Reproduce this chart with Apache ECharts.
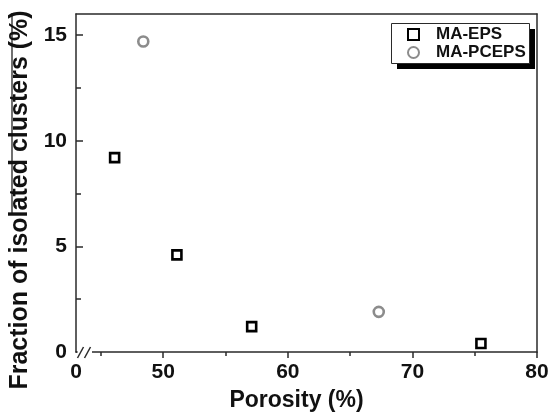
<!DOCTYPE html>
<html>
<head>
<meta charset="utf-8">
<script src="https://cdn.jsdelivr.net/npm/echarts@6/dist/echarts.min.js"></script>
<style>
  html, body { margin: 0; padding: 0; background: #fff; }
  #chart { width: 553px; height: 414px; }
</style>
</head>
<body>
<div id="chart"></div>
<script>
// Porosity (%) vs fraction of isolated clusters (%)
const epsPorosity = [46.1, 51.1, 57.1, 75.5];
const epsFraction = [9.2, 4.6, 1.2, 0.4];
const pcepsPorosity = [48.4, 67.3];
const pcepsFraction = [14.7, 1.9];

const xMajorTicks = [50, 60, 70, 80];
const xMinorTicks = [45, 55, 65, 75];
const yMajorTicks = [0, 5, 10, 15];
const yMinorTicks = [2.5, 7.5, 12.5];

const X_MIN = 43, X_MAX = 80, Y_MIN = 0, Y_MAX = 16;
const FONT = '"Liberation Sans", Arial, sans-serif';
const AXIS_COLOR = '#2a2a2a';

// legend frame (with a solid drop shadow) drawn behind the legend items
const LEGEND_BOX = { x: 391, y: 23, w: 138, h: 40, shadow: 6 };

const chart = echarts.init(document.getElementById('chart'), null, { renderer: 'canvas' });

const pair = (xs, ys) => xs.map((x, i) => [x, ys[i]]);

const option = {
  backgroundColor: '#fff',
  animation: false,
  grid: { left: 76, right: 16, top: 14, bottom: 62, containLabel: false, outerBoundsMode: 'none' },
  legend: {
    orient: 'vertical',
    left: LEGEND_BOX.x,
    top: LEGEND_BOX.y,
    z: 20,
    itemWidth: 11,
    itemHeight: 11,
    itemGap: 1,
    padding: [3, 5, 4, 16],
    textStyle: { fontFamily: FONT, fontWeight: 'bold', fontSize: 17, color: '#111', padding: [0, 0, 0, 12] },
    data: ['MA-EPS', 'MA-PCEPS']
  },
  xAxis: [
    {
      type: 'value', position: 'bottom', min: X_MIN, max: X_MAX,
      splitLine: { show: false },
      axisLine: { show: true, onZero: false, lineStyle: { color: AXIS_COLOR, width: 1.5 } },
      axisTick: { show: true, inside: false, length: 6, customValues: xMajorTicks, lineStyle: { color: AXIS_COLOR, width: 1.5 } },
      axisLabel: {
        show: true, margin: 10, customValues: [X_MIN].concat(xMajorTicks),
        formatter: v => (v === X_MIN ? '0' : String(v)),
        fontFamily: FONT, fontWeight: 'bold', fontSize: 21, color: '#111'
      },
      name: 'Porosity (%)', nameLocation: 'middle', nameGap: 37,
      nameTextStyle: { fontFamily: FONT, fontWeight: 'bold', fontSize: 23, color: '#111', padding: [0, 20, 0, 0] }
    },
    {
      type: 'value', position: 'bottom', min: X_MIN, max: X_MAX,
      splitLine: { show: false },
      axisLine: { show: false, onZero: false },
      axisTick: { show: true, inside: false, length: 4, customValues: xMinorTicks, lineStyle: { color: AXIS_COLOR, width: 1.5 } },
      axisLabel: { show: false }
    },
    {
      type: 'value', position: 'top', min: X_MIN, max: X_MAX,
      splitLine: { show: false },
      axisLine: { show: true, onZero: false, lineStyle: { color: AXIS_COLOR, width: 1.5 } },
      axisTick: { show: false }, axisLabel: { show: false }
    }
  ],
  yAxis: [
    {
      type: 'value', position: 'left', min: Y_MIN, max: Y_MAX,
      splitLine: { show: false },
      axisLine: { show: true, onZero: false, lineStyle: { color: AXIS_COLOR, width: 1.5 } },
      axisTick: { show: true, inside: true, length: 7, customValues: yMajorTicks, lineStyle: { color: AXIS_COLOR, width: 1.5 } },
      axisLabel: {
        show: true, margin: 9, customValues: yMajorTicks,
        fontFamily: FONT, fontWeight: 'bold', fontSize: 21, color: '#111'
      },
      name: 'Fraction of isolated clusters (%)', nameLocation: 'middle', nameGap: 37,
      nameTextStyle: { fontFamily: FONT, fontWeight: 'bold', fontSize: 25, color: '#111', padding: [0, 34, 0, 0] }
    },
    {
      type: 'value', position: 'left', min: Y_MIN, max: Y_MAX,
      splitLine: { show: false },
      axisLine: { show: false, onZero: false },
      axisTick: { show: true, inside: true, length: 5, customValues: yMinorTicks, lineStyle: { color: AXIS_COLOR, width: 1.5 } },
      axisLabel: { show: false }
    },
    {
      type: 'value', position: 'right', min: Y_MIN, max: Y_MAX,
      splitLine: { show: false },
      axisLine: { show: true, onZero: false, lineStyle: { color: AXIS_COLOR, width: 1.5 } },
      axisTick: { show: false }, axisLabel: { show: false }
    }
  ],
  series: [
    {
      name: 'MA-EPS', type: 'scatter', xAxisIndex: 0, yAxisIndex: 0,
      symbol: 'rect', symbolSize: 9,
      itemStyle: { color: '#fff', borderColor: '#000', borderWidth: 2.6, opacity: 1 },
      data: pair(epsPorosity, epsFraction), z: 5
    },
    {
      name: 'MA-PCEPS', type: 'scatter', xAxisIndex: 0, yAxisIndex: 0,
      symbol: 'circle', symbolSize: 10,
      itemStyle: { color: '#fff', borderColor: '#8c8c8c', borderWidth: 2.6, opacity: 1 },
      data: pair(pcepsPorosity, pcepsFraction), z: 5
    }
  ]
};

chart.setOption(option);

// Axis break "//" near the origin, the legend frame and the rule left of the y title
const p0 = chart.convertToPixel({ xAxisIndex: 0, yAxisIndex: 0 }, [X_MIN, Y_MIN]);
const bx = p0[0], by = p0[1];
const L = LEGEND_BOX;
chart.setOption({
  graphic: [
    { type: 'rect', shape: { x: bx + 1.5, y: by - 2, width: 14.5, height: 4 }, style: { fill: '#fff' }, z: 100 },
    { type: 'line', shape: { x1: bx + 1.5, y1: by + 6, x2: bx + 7.5, y2: by - 5 }, style: { stroke: AXIS_COLOR, lineWidth: 1.5 }, z: 101 },
    { type: 'line', shape: { x1: bx + 8.5, y1: by + 6, x2: bx + 14.5, y2: by - 5 }, style: { stroke: AXIS_COLOR, lineWidth: 1.5 }, z: 101 },
    { type: 'line', shape: { x1: 12, y1: 13, x2: 12, y2: 213 }, style: { stroke: '#111', lineWidth: 1.2 }, z: 101 },
    { type: 'rect', shape: { x: L.x + L.shadow, y: L.y + L.shadow, width: L.w, height: L.h }, style: { fill: '#000' }, z: 10 },
    { type: 'rect', shape: { x: L.x + 0.5, y: L.y + 0.5, width: L.w, height: L.h }, style: { fill: '#fff', stroke: AXIS_COLOR, lineWidth: 1 }, z: 11 }
  ]
});
</script>
</body>
</html>
